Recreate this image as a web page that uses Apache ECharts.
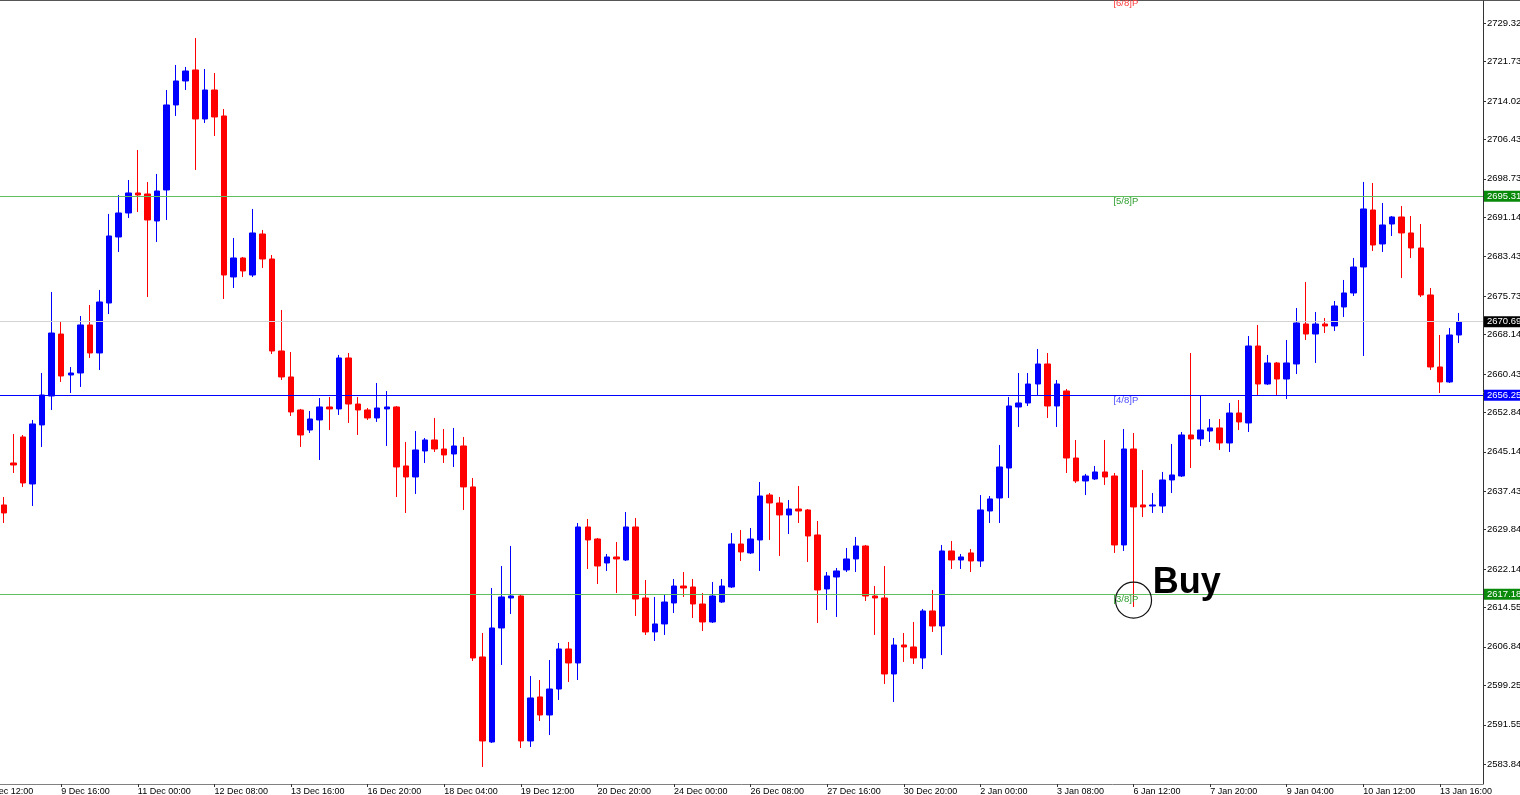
<!DOCTYPE html>
<html>
<head>
<meta charset="utf-8">
<title>XAUUSD H4</title>
<script src="https://cdn.jsdelivr.net/npm/echarts@6/dist/echarts.min.js"></script>
<style>
    html, body { margin: 0; padding: 0; background: #fff; }
    #chart { width: 1520px; height: 795px; }
</style>
</head>
<body>
<div id="chart"></div>
<script>
// H4 bars, each row is [open, close, low, high]
const candles = [
    [2634.70, 2633.13, 2631.16, 2636.27], [2642.94, 2642.55, 2640.98, 2648.63], [2648.05, 2639.02, 2638.24, 2648.44],
    [2638.82, 2650.60, 2634.50, 2651.39], [2650.41, 2656.29, 2646.09, 2660.61], [2656.09, 2668.46, 2653.35, 2676.52],
    [2668.26, 2660.02, 2658.85, 2670.63], [2660.22, 2660.61, 2656.68, 2661.79], [2660.61, 2670.04, 2657.87, 2671.80],
    [2670.04, 2664.54, 2663.56, 2673.96], [2664.54, 2674.55, 2661.20, 2676.91], [2674.35, 2687.51, 2672.19, 2691.83],
    [2687.31, 2692.02, 2684.37, 2695.56], [2692.02, 2695.95, 2691.04, 2698.50], [2695.95, 2695.56, 2692.22, 2704.39],
    [2695.75, 2690.65, 2675.53, 2698.11], [2690.45, 2696.34, 2686.33, 2699.68], [2696.54, 2713.23, 2690.65, 2716.17],
    [2713.23, 2717.94, 2711.07, 2721.08], [2717.94, 2719.90, 2716.17, 2720.69], [2720.10, 2710.48, 2700.47, 2726.38],
    [2710.48, 2716.17, 2709.69, 2720.29], [2716.17, 2710.87, 2707.14, 2719.51], [2711.07, 2679.85, 2675.14, 2712.44],
    [2679.46, 2683.19, 2677.30, 2687.12], [2683.19, 2680.64, 2679.46, 2683.39], [2679.85, 2688.10, 2679.46, 2692.81],
    [2687.90, 2682.99, 2681.23, 2688.69], [2682.99, 2664.93, 2664.34, 2683.78], [2664.93, 2659.83, 2659.24, 2672.98],
    [2659.83, 2652.96, 2652.17, 2664.73], [2653.35, 2648.44, 2646.09, 2653.55], [2649.42, 2651.58, 2648.83, 2653.15],
    [2651.39, 2653.94, 2643.53, 2655.70], [2653.94, 2653.55, 2649.42, 2655.90], [2653.55, 2663.56, 2652.37, 2664.15],
    [2663.56, 2654.52, 2650.80, 2664.54], [2654.52, 2653.35, 2648.44, 2655.90], [2653.35, 2651.78, 2651.39, 2653.74],
    [2651.78, 2653.74, 2651.00, 2658.65], [2653.55, 2653.94, 2646.28, 2657.08], [2653.94, 2642.16, 2636.27, 2654.13],
    [2642.36, 2640.20, 2633.13, 2647.07], [2640.20, 2645.50, 2636.86, 2649.23], [2645.30, 2647.46, 2642.94, 2647.85],
    [2647.46, 2645.69, 2645.10, 2651.78], [2645.69, 2644.52, 2642.94, 2649.62], [2644.71, 2646.28, 2642.16, 2649.82],
    [2646.28, 2638.24, 2633.72, 2648.05], [2638.24, 2604.66, 2604.07, 2640.00], [2604.86, 2588.37, 2583.26, 2609.57],
    [2588.17, 2610.55, 2587.97, 2618.40], [2610.55, 2616.64, 2603.29, 2622.72], [2616.44, 2616.83, 2613.30, 2626.65],
    [2616.83, 2588.37, 2586.99, 2617.03], [2588.37, 2596.81, 2587.19, 2601.12], [2597.01, 2593.47, 2592.29, 2600.34],
    [2593.47, 2598.57, 2589.54, 2604.27], [2598.57, 2606.43, 2596.42, 2607.61], [2606.43, 2603.68, 2599.95, 2607.80],
    [2603.68, 2630.38, 2600.34, 2631.16], [2630.38, 2627.83, 2622.13, 2631.95], [2628.02, 2622.72, 2619.19, 2628.22],
    [2623.31, 2624.49, 2621.74, 2625.08], [2624.49, 2624.10, 2617.42, 2627.43], [2623.90, 2630.38, 2623.70, 2633.32],
    [2630.38, 2616.24, 2612.91, 2632.15], [2616.44, 2609.77, 2609.18, 2619.97], [2609.77, 2611.34, 2608.00, 2616.64],
    [2611.34, 2615.65, 2609.18, 2617.22], [2615.46, 2618.79, 2613.50, 2620.17], [2618.79, 2618.40, 2616.64, 2621.54],
    [2618.60, 2615.26, 2612.51, 2620.17], [2615.26, 2611.73, 2609.96, 2617.42], [2611.73, 2616.83, 2611.53, 2619.58],
    [2615.65, 2618.79, 2615.46, 2620.17], [2618.60, 2627.04, 2618.40, 2629.20], [2627.04, 2625.47, 2623.70, 2629.79],
    [2625.28, 2628.02, 2625.08, 2630.18], [2627.83, 2636.46, 2621.74, 2639.21], [2636.66, 2635.09, 2627.83, 2637.05],
    [2635.09, 2632.74, 2624.69, 2636.27], [2632.74, 2633.91, 2629.00, 2635.68], [2633.91, 2633.52, 2631.16, 2638.43],
    [2633.72, 2628.61, 2623.51, 2633.91], [2628.81, 2618.01, 2611.53, 2631.56], [2618.21, 2620.76, 2614.08, 2621.54],
    [2620.56, 2621.74, 2612.71, 2622.33], [2621.94, 2624.10, 2621.54, 2626.26], [2624.10, 2626.65, 2621.54, 2628.42],
    [2626.65, 2616.83, 2615.85, 2626.85], [2616.83, 2616.44, 2609.18, 2618.79], [2616.44, 2601.52, 2599.56, 2622.72],
    [2601.52, 2607.21, 2596.02, 2608.59], [2607.21, 2606.82, 2603.88, 2609.57], [2606.82, 2604.66, 2603.49, 2611.73],
    [2604.66, 2613.89, 2602.50, 2614.28], [2613.89, 2610.94, 2609.77, 2618.01], [2610.94, 2625.67, 2605.25, 2626.85],
    [2625.67, 2623.90, 2622.13, 2627.63], [2623.90, 2624.49, 2622.13, 2625.08], [2625.28, 2623.70, 2621.54, 2626.06],
    [2623.70, 2633.72, 2622.53, 2636.66], [2633.52, 2635.88, 2631.16, 2636.46], [2636.07, 2642.16, 2631.16, 2646.48],
    [2641.96, 2654.13, 2636.07, 2655.90], [2653.94, 2654.72, 2650.01, 2660.61], [2654.72, 2658.45, 2654.13, 2660.61],
    [2658.45, 2662.38, 2656.29, 2665.32], [2662.38, 2654.13, 2651.78, 2664.54], [2654.13, 2658.45, 2650.01, 2659.24],
    [2657.08, 2643.92, 2640.98, 2657.47], [2643.92, 2639.41, 2639.02, 2647.46], [2639.41, 2640.39, 2636.66, 2640.79],
    [2639.80, 2641.18, 2639.61, 2642.36], [2641.18, 2640.20, 2638.63, 2647.46], [2640.39, 2626.85, 2625.28, 2640.98],
    [2626.85, 2645.69, 2625.67, 2649.62], [2645.69, 2634.31, 2614.67, 2648.83], [2634.70, 2634.31, 2632.34, 2641.57],
    [2634.50, 2634.70, 2633.13, 2637.05], [2634.50, 2639.61, 2633.13, 2641.18], [2639.61, 2640.59, 2637.05, 2646.68],
    [2640.39, 2648.44, 2640.20, 2649.03], [2648.44, 2647.66, 2641.96, 2664.54], [2647.66, 2649.42, 2646.28, 2656.29],
    [2649.23, 2649.82, 2647.07, 2651.58], [2649.82, 2646.87, 2645.50, 2651.58], [2646.87, 2652.76, 2645.10, 2654.72],
    [2652.76, 2651.00, 2649.42, 2655.31], [2650.80, 2665.91, 2649.03, 2667.87], [2665.91, 2658.45, 2656.29, 2670.04],
    [2658.45, 2662.58, 2658.26, 2664.15], [2662.58, 2659.43, 2656.29, 2662.77], [2659.43, 2662.58, 2655.51, 2667.09],
    [2662.38, 2670.43, 2660.41, 2673.37], [2670.23, 2668.26, 2667.09, 2678.48], [2668.26, 2670.23, 2662.58, 2672.59],
    [2670.23, 2669.84, 2668.46, 2671.41], [2669.84, 2673.77, 2668.86, 2674.75], [2673.57, 2676.32, 2671.61, 2678.87],
    [2676.32, 2681.42, 2675.73, 2683.19], [2681.42, 2692.81, 2663.95, 2698.11], [2692.61, 2685.74, 2684.56, 2697.91],
    [2685.94, 2689.67, 2684.37, 2693.99], [2689.86, 2691.24, 2687.51, 2691.43], [2691.24, 2688.10, 2679.26, 2693.40],
    [2688.10, 2685.15, 2683.19, 2691.43], [2685.15, 2675.93, 2675.53, 2689.86], [2675.93, 2661.79, 2661.20, 2677.30],
    [2661.79, 2658.85, 2656.68, 2668.07], [2658.85, 2668.07, 2658.65, 2669.45], [2668.07, 2670.69, 2666.50, 2672.39]
];

// one time label every 8 bars; the first belongs to a bar just left of the view
const timeLabels = [
    '6 Dec 12:00', '9 Dec 16:00', '11 Dec 00:00', '12 Dec 08:00', '13 Dec 16:00', '16 Dec 20:00',
    '18 Dec 04:00', '19 Dec 12:00', '20 Dec 20:00', '24 Dec 00:00', '26 Dec 08:00', '27 Dec 16:00',
    '30 Dec 20:00', '2 Jan 00:00', '3 Jan 08:00', '6 Jan 12:00', '7 Jan 20:00', '9 Jan 04:00',
    '10 Jan 12:00', '13 Jan 16:00'
];
const firstLabelBar = -2;
const barsPerLabel = 8;
const emptyBarsRight = 2;

const priceTicks = [
    2583.845, 2591.550, 2599.255, 2606.845, 2614.550, 2622.140, 2629.845, 2637.435, 2645.140, 2652.845,
    2660.435, 2668.140, 2675.730, 2683.435, 2691.140, 2698.730, 2706.435, 2714.025, 2721.730, 2729.320
];
const priceMin = 2579.92;
const priceMax = 2733.64;

// Murrey math levels
const levelNames = ['[6/8]P', '[5/8]P', '[4/8]P', '[3/8]P'];
const levelValues = [2734.374, 2695.312, 2656.250, 2617.188];
const lastPrice = 2670.694;

// buy signal drawn on the long-wick bar
const buyBar = 118;
const buyTextBar = 120;
const buyPrice = 2616.0;

const FONT = 'Liberation Sans';
const levelStyle = {
    '[6/8]P': { text: '#ff3b3b', line: null, tag: null },
    '[5/8]P': { text: '#2e9e2e', line: '#5fbf5f', tag: '#0a8a0a' },
    '[4/8]P': { text: '#4d4dff', line: '#0000ff', tag: '#0000ff' },
    '[3/8]P': { text: '#2e9e2e', line: '#5fbf5f', tag: '#0a8a0a' },
};

const isLabelBar = (index) => (index - firstLabelBar) % barsPerLabel === 0;

const categories = candles.map((_, i) => String(i));
for (let i = 0; i < emptyBarsRight; i++) {
    categories.push(String(candles.length + i));
}

const axisTag = (value, bg) => ({
    show: true,
    position: 'end',
    distance: 1,
    formatter: value.toFixed(3),
    color: '#fff',
    backgroundColor: bg,
    fontFamily: FONT,
    fontSize: 9.5,
    padding: [1, 4, 0, 3],
});

const markLines = [];
const markPoints = [];

levelNames.forEach((name, i) => {
    const style = levelStyle[name];
    const value = levelValues[i];
    const inView = value <= priceMax;

    if (inView) {
        markLines.push({
            yAxis: value,
            lineStyle: { color: style.line, width: 1, type: 'solid' },
            label: axisTag(value, style.tag),
        });
    }

    markPoints.push({
        coord: [116, inView ? value : priceMax - 0.01],
        symbol: 'circle',
        symbolSize: 0,
        label: {
            show: true,
            position: 'right',
            distance: 0,
            offset: [-1, inView ? 5 : 2],
            formatter: name,
            color: style.text,
            fontFamily: FONT,
            fontSize: 9.5,
        },
    });
});

markLines.push({
    yAxis: lastPrice,
    lineStyle: { color: '#d3d3d3', width: 1, type: 'solid' },
    label: axisTag(lastPrice, '#000'),
});

markPoints.push({
    coord: [buyBar, buyPrice],
    symbol: 'circle',
    symbolSize: 36,
    itemStyle: { color: 'rgba(0,0,0,0)', borderColor: '#111', borderWidth: 1.2 },
    label: { show: false },
});

markPoints.push({
    coord: [buyTextBar, buyPrice],
    symbol: 'circle',
    symbolSize: 0,
    label: {
        show: true,
        position: 'right',
        distance: 0,
        offset: [0, -17],
        formatter: 'Buy',
        color: '#000',
        fontFamily: FONT,
        fontWeight: 900,
        fontSize: 36,
    },
});

const chart = echarts.init(document.getElementById('chart'), null, { renderer: 'canvas' });

chart.setOption({
    animation: false,
    backgroundColor: '#fff',
    grid: { left: -1, right: 37, top: 1, bottom: 11, outerBoundsMode: 'none' },
    xAxis: {
        type: 'category',
        data: categories,
        boundaryGap: true,
        axisLine: { show: true, lineStyle: { color: '#808080', width: 1 } },
        axisTick: {
            show: true,
            alignWithLabel: true,
            interval: (index) => isLabelBar(index),
            length: 3,
            lineStyle: { color: '#333' },
        },
        axisLabel: {
            interval: (index) => isLabelBar(index),
            formatter: (value) => timeLabels[(Number(value) - firstLabelBar) / barsPerLabel] || '',
            align: 'left',
            margin: 3,
            color: '#000',
            fontFamily: FONT,
            fontSize: 9,
        },
        splitLine: { show: false },
    },
    yAxis: {
        type: 'value',
        position: 'right',
        min: priceMin,
        max: priceMax,
        axisLine: { show: true, lineStyle: { color: '#333', width: 1 } },
        axisTick: { show: true, length: 3, customValues: priceTicks, lineStyle: { color: '#333' } },
        axisLabel: {
            customValues: priceTicks,
            formatter: (value) => Number(value).toFixed(3),
            margin: 4,
            color: '#000',
            fontFamily: FONT,
            fontSize: 9.5,
        },
        splitLine: { show: false },
    },
    series: [{
        name: 'XAUUSD,H4',
        type: 'candlestick',
        data: candles,
        barWidth: 6,
        itemStyle: {
            color: '#0000ff',
            color0: '#ff0000',
            borderColor: '#0000ff',
            borderColor0: '#ff0000',
            borderWidth: 1,
        },
        markLine: {
            silent: true,
            symbol: 'none',
            animation: false,
            data: markLines,
        },
        markPoint: {
            silent: true,
            animation: false,
            data: markPoints,
        },
    }],
});

// frame line on top and the cut-off time label at the left edge
const graphics = [{
    type: 'line',
    shape: { x1: 0, y1: 0.5, x2: 1520, y2: 0.5 },
    style: { stroke: '#555', lineWidth: 1 },
}];

const leftX = chart.convertToPixel({ xAxisIndex: 0 }, firstLabelBar);
if (Number.isFinite(leftX)) {
    graphics.push({
        type: 'text',
        x: leftX,
        y: 795 - 11 + 3,
        style: {
            text: timeLabels[0],
            fill: '#000',
            fontFamily: FONT,
            fontSize: 9,
            align: 'left',
            verticalAlign: 'top',
        },
    });
}

chart.setOption({ graphic: graphics });
window.addEventListener('resize', () => chart.resize());
</script>
</body>
</html>
